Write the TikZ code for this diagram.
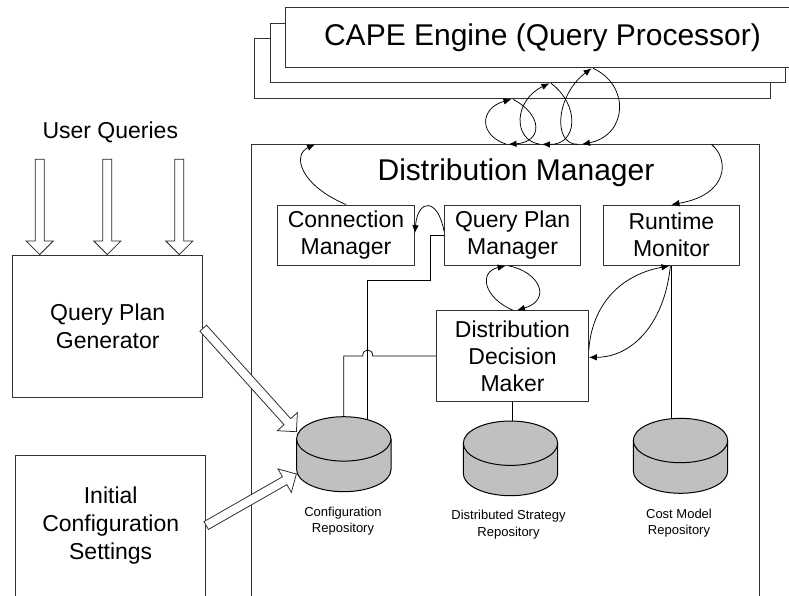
\documentclass[tikz,border=0pt]{standalone}
\usepackage{fontspec}
\setmainfont{Liberation Sans}
\usetikzlibrary{calc,arrows.meta}

\definecolor{dbgray}{RGB}{192,192,192}
\newcommand{\boxfont}{\fontsize{23}{27}\selectfont}
\newcommand{\sidefont}{\fontsize{23}{28}\selectfont}
\newcommand{\titlefont}{\fontsize{30}{36}\selectfont}
\newcommand{\labelfont}{\fontsize{13}{16.5}\selectfont}

% database cylinder: name, centre x, top y, bottom y
\newcommand{\dbstore}[4]{%
  \fill[dbgray] (#2-47.2,#3+22.2) -- (#2-47.2,#4-22.2)
    .. controls (#2-47.2,#4-9.94) and (#2-26.07,#4) .. (#2,#4)
    .. controls (#2+26.07,#4) and (#2+47.2,#4-9.94) .. (#2+47.2,#4-22.2)
    -- (#2+47.2,#3+22.2) -- cycle;
  \draw[dbline] (#2-47.2,#3+22.2) -- (#2-47.2,#4-22.2)
    .. controls (#2-47.2,#4-9.94) and (#2-26.07,#4) .. (#2,#4)
    .. controls (#2+26.07,#4) and (#2+47.2,#4-9.94) .. (#2+47.2,#4-22.2)
    -- (#2+47.2,#3+22.2);
  \filldraw[dbline, fill=dbgray] (#2,#3+22.2) ellipse [x radius=47.2pt, y radius=22.2pt];
  \node[inner sep=0pt, minimum width=94.4, minimum height=#4-#3] (#1) at (#2,{(#3+#4)/2}) {};
}

% hollow block arrow from #1 to #2
\newcommand{\blockarrow}[2]{%
  \coordinate (ba-base) at ($(#2)!13.5pt!(#1)$);
  \draw[blockarr] ($(#1)!4.5pt!90:(#2)$) -- ($(ba-base)!4.5pt!90:(#2)$)
    -- ($(ba-base)!13.5pt!90:(#2)$) -- (#2)
    -- ($(ba-base)!13.5pt!-90:(#2)$) -- ($(ba-base)!4.5pt!-90:(#2)$)
    -- ($(#1)!4.5pt!-90:(#2)$) -- cycle;
}

\begin{document}
\begin{tikzpicture}[x=1pt, y=-1pt,
  unitbox/.style={draw=black!80, line width=1pt, inner sep=0pt, align=center, font=\boxfont},
  conn/.style={line width=0.75pt},
  arr/.style={conn, -{Latex[length=8pt,width=6.5pt]}},
  blockarr/.style={draw=black!85, fill=white, line width=0.75pt, line join=miter},
  dbline/.style={draw=black, line width=1pt},
  lbl/.style={font=\labelfont, align=center, inner sep=0pt}]

\useasboundingbox (0,0) rectangle (789,596);
\clip (0,0) rectangle (789,596);
\fill[white] (0,0) rectangle (789,596);

% stacked engine instances
\node[unitbox, fill=white, minimum width=515.2, minimum height=60.7] (capeb) at (512.4,68.65) {};
\node[unitbox, fill=white, minimum width=515, minimum height=59.7] (capem) at (527.5,53.15) {};
\node[unitbox, fill=white, minimum width=515, minimum height=60, font=\titlefont] (cape) at (542.5,38) {CAPE Engine (Query Processor)};

% distribution manager frame and its components
\node[unitbox, minimum width=507.3, minimum height=475.7] (dm) at (505.35,382.15) {};
\node[font=\titlefont, inner sep=0pt] (dmtitle) at (516,173) {Distribution Manager};

\node[unitbox, minimum width=136.6, minimum height=60.3] (cm) at (346,235.2) {Connection\\Manager};
\node[unitbox, minimum width=136.2, minimum height=60.3] (qpm) at (512.6,235.2) {Query Plan\\Manager};
\node[unitbox, minimum width=136.2, minimum height=60.3] (rm) at (671.4,235.2) {Runtime\\Monitor};
\node[unitbox, minimum width=151.6, minimum height=90.3] (ddm) at (512.5,355.9) {Distribution\\Decision\\Maker};

% outside inputs
\node[font=\sidefont, inner sep=0pt] (uq) at (110.3,132.3) {User Queries};
\node[unitbox, font=\sidefont, minimum width=190, minimum height=142.3] (qpg) at (107.7,326.2) {Query Plan\\Generator};
\node[unitbox, minimum width=190, minimum height=185] (icfg) at (110.7,547.5) {};
\node[font=\sidefont, align=center, inner sep=0pt] (icfgtxt) at (110.7,525.5) {Initial\\Configuration\\Settings};

% repositories
\dbstore{cfg}{343.8}{416.7}{491.7}
\dbstore{dss}{510.5}{421}{495.7}
\dbstore{cms}{680.5}{418.3}{493.3}
\node[lbl] (cfglbl) at (343,521) {Configuration\\Repository};
\node[lbl] (dsslbl) at (508.5,524.5) {Distributed Strategy\\Repository};
\node[lbl] (cmslbl) at (679,523) {Cost Model\\Repository};

% plain links to the repositories
\coordinate (cfgq) at ($(cfg.north)+(23.9,3)$);
\draw[conn] (ddm.south) -- (ddm.south |- dss.north);
\draw[conn] (rm.south) -- (rm.south |- cms.north);
\draw[conn] (qpm.west) -- (430,235.2) -- (430,280) -- (367.7,280) -- (cfgq);
\draw[conn] (ddm.west) -- (372.7,355.9) .. controls (372.7,348) and (362.7,348) .. (362.7,355.9)
  -- (cfg.north |- ddm.west) -- (cfg.north);

% engine <-> manager exchanges
\coordinate (e1t) at (511.5,99.3);   \coordinate (e1s) at (513,99.3);
\coordinate (e1b) at (506.5,144.3);  \coordinate (e1e) at (508.5,144.3);
\coordinate (e2t) at (549.5,83.3);   \coordinate (e2s) at (551,83.3);
\coordinate (e2b) at (540,144.3);    \coordinate (e2e) at (542,144.3);
\coordinate (e3t) at (591.5,68.3);   \coordinate (e3s) at (593,68.3);
\coordinate (e3b) at (578,144.3);    \coordinate (e3e) at (582,144.3);
\draw[arr] (e1b) .. controls (478,135) and (480,108) .. (e1t);
\draw[arr] (e1s) .. controls (543,115) and (543,142) .. (e1e);
\draw[arr] (e2b) .. controls (512,140) and (514,100) .. (e2t);
\draw[arr] (e2s) .. controls (580,105) and (578,145) .. (e2e);
\draw[arr] (e3b) .. controls (552,145) and (556,95) .. (e3t);
\draw[arr] (e3s) .. controls (630,85) and (628,135) .. (e3e);

% internal messages
\coordinate (dmin) at (315,144.3);
\coordinate (dmout) at (711.5,144.3);
\draw[arr] (cm.north) .. controls (300,185) and (292,155) .. (dmin);
\draw[arr] (dmout) .. controls (730,160) and (728,195) .. (rm.north);
\draw[arr] ($(qpm.west)+(0,-4)$) .. controls (438,198) and (418,198) .. ($(cm.east)+(0,-2)$);
\draw[arr] ($(ddm.north)+(0.5,0)$) .. controls (484,298) and (478,272) .. ($(qpm.south)+(-7,0)$);
\draw[arr] ($(qpm.south)+(-4,0)$) .. controls (540,272) and (552,300) .. ($(ddm.north)+(4.5,0)$);
\draw[arr] ($(ddm.east)+(0,-6)$) .. controls (592,305) and (620,275) .. ($(rm.south)+(-2,0)$);
\draw[arr] ($(rm.south)+(-1,0)$) .. controls (665,320) and (635,357) .. ($(ddm.east)+(0,1.5)$);

% hollow input arrows
\coordinate (uq1s) at (39.7,159.3);  \coordinate (uq1e) at (uq1s |- qpg.north);
\coordinate (uq2s) at (107.3,159.3); \coordinate (uq2e) at (uq2s |- qpg.north);
\coordinate (uq3s) at (179.3,159.3); \coordinate (uq3e) at (uq3s |- qpg.north);
\blockarrow{uq1s}{uq1e}
\blockarrow{uq2s}{uq2e}
\blockarrow{uq3s}{uq3e}
\coordinate (qpgout) at ($(qpg.east)+(0,2)$);
\coordinate (cfgin1) at ($(cfg.west)+(0,-22.5)$);
\coordinate (icfgout) at (icfgtxt.east -| icfg.east);
\coordinate (cfgin2) at ($(cfg.west)+(0,19.8)$);
\blockarrow{qpgout}{cfgin1}
\blockarrow{icfgout}{cfgin2}

\end{tikzpicture}
\end{document}
